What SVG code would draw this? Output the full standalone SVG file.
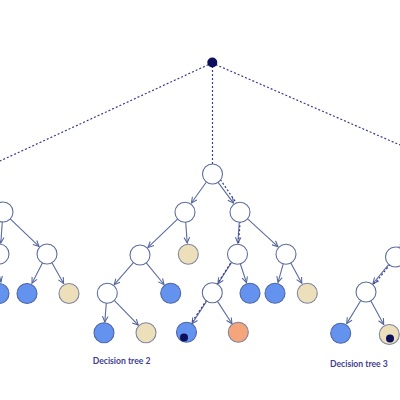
<svg xmlns="http://www.w3.org/2000/svg" width="400" height="400" viewBox="0 0 400 400">
<defs>
<marker id="ah" viewBox="0 0 8 8" refX="7" refY="4" markerWidth="7" markerHeight="7" markerUnits="userSpaceOnUse" orient="auto">
<path d="M0.5,0.8 L7,4 L0.5,7.2" fill="none" stroke="#53659a" stroke-width="1.2"/>
</marker>
<style>
.e{stroke:#5a6b9e;stroke-width:1.1;fill:none;marker-end:url(#ah)}
.d{stroke:#3a3d8c;stroke-width:1.2;fill:none;stroke-dasharray:2 2}
.w{fill:#ffffff;stroke:#5d6e9f;stroke-width:1.1}
.b{fill:#6393ee;stroke:#4e66a6;stroke-width:1.1}
.t{fill:#eedfbb;stroke:#7f869f;stroke-width:1.1}
.o{fill:#f5a57c;stroke:#7f7f9a;stroke-width:1.1}
.k{fill:#0c0f5e}
.lbl{font-family:Lato,"Liberation Sans",sans-serif;font-size:8.6px;font-weight:bold;fill:#3f4190}
</style>
</defs>
<rect width="400" height="400" fill="#ffffff"/>
<g id="connectors">
<!-- tree 1 -->
<line class="e" x1="2.3" y1="222" x2="0.8" y2="243"/>
<line class="e" x1="10.2" y1="218.9" x2="39" y2="246.4"/>
<line class="e" x1="42.4" y1="262.9" x2="32" y2="283.2"/>
<line class="e" x1="51.9" y1="262.7" x2="63.6" y2="283.4"/>
<line class="e" x1="-4" y1="262" x2="1" y2="282"/>
<!-- tree 2 -->
<line class="e" x1="206.2" y1="182.2" x2="191.4" y2="203"/>
<line class="e" x1="217.9" y1="182.1" x2="233.5" y2="203.1"/>
<line class="e" x1="177.8" y1="218.9" x2="148" y2="247.4"/>
<line class="e" x1="185.7" y1="222" x2="187.2" y2="243"/>
<line class="e" x1="239.3" y1="222" x2="237.8" y2="243"/>
<line class="e" x1="247.4" y1="218.7" x2="277.9" y2="246.6"/>
<line class="e" x1="133.4" y1="262.6" x2="114.2" y2="284.7"/>
<line class="e" x1="146.3" y1="262.8" x2="164" y2="284.5"/>
<line class="e" x1="231.6" y1="262.4" x2="217.9" y2="283.7"/>
<line class="e" x1="240.2" y1="263.5" x2="246.5" y2="282.6"/>
<line class="e" x1="283.3" y1="263.6" x2="278" y2="282.4"/>
<line class="e" x1="290.7" y1="262.8" x2="301.8" y2="283.3"/>
<line class="e" x1="106.3" y1="303" x2="104.8" y2="322"/>
<line class="e" x1="114" y1="300.2" x2="138.3" y2="325.1"/>
<line class="e" x1="206.5" y1="301.4" x2="192" y2="323.8"/>
<line class="e" x1="217.5" y1="301.4" x2="232" y2="323.8"/>
<!-- tree 3 -->
<line class="e" x1="388.6" y1="264.7" x2="373" y2="283.5"/>
<line class="e" x1="360.8" y1="300.5" x2="346.7" y2="323.6"/>
<line class="e" x1="370.8" y1="300.8" x2="383.7" y2="324.4"/>
<!-- dashed paths -->
<line class="d" x1="212" y1="63" x2="0" y2="161"/>
<line class="d" x1="212" y1="63" x2="400" y2="145"/>
<path class="d" d="M212.5,66 V168 L241,210 L238.5,244 L237,253 L214,289 L188,328 L184,336"/>
<path class="d" d="M401,243 L392,262 L376,282 L367,289 L370,302 M390,327 L390,331"/>
</g>
<g id="root-dot"><circle class="k" cx="212.3" cy="62.5" r="5"/></g>
<!-- tree 1 -->
<g id="t1-n0"><circle class="w" cx="3" cy="212" r="10"/></g>
<g id="t1-n1"><circle class="w" cx="-1" cy="254" r="10"/></g>
<g id="t1-n2"><circle class="w" cx="47" cy="254" r="10"/></g>
<g id="t1-l1"><circle class="b" cx="-1" cy="293.5" r="10"/></g>
<g id="t1-l2"><circle class="b" cx="27" cy="293.5" r="10"/></g>
<g id="t1-l3"><circle class="t" cx="69" cy="293.5" r="10"/></g>
<!-- tree 2 -->
<g id="t2-n0"><circle class="w" cx="212.5" cy="174" r="10"/></g>
<g id="t2-n1"><circle class="w" cx="185" cy="212.3" r="10"/></g>
<g id="t2-n2"><circle class="w" cx="240" cy="212.3" r="10"/></g>
<g id="t2-n3"><circle class="w" cx="140" cy="255" r="10"/></g>
<g id="t2-l1"><circle class="t" cx="188.3" cy="254.3" r="10"/></g>
<g id="t2-n4"><circle class="w" cx="237.5" cy="254.3" r="10"/></g>
<g id="t2-n5"><circle class="w" cx="286" cy="254.3" r="10"/></g>
<g id="t2-n6"><circle class="w" cx="107.3" cy="293.3" r="10"/></g>
<g id="t2-l2"><circle class="b" cx="170.7" cy="293.3" r="10"/></g>
<g id="t2-n7"><circle class="w" cx="212.3" cy="292.8" r="10"/></g>
<g id="t2-l3"><circle class="b" cx="250" cy="293.3" r="10"/></g>
<g id="t2-l4"><circle class="b" cx="275" cy="293.3" r="10"/></g>
<g id="t2-l5"><circle class="t" cx="307.3" cy="293.3" r="10"/></g>
<g id="t2-l6"><circle class="b" cx="104" cy="332.7" r="10"/></g>
<g id="t2-l7"><circle class="t" cx="146" cy="332.7" r="10"/></g>
<g id="t2-l8"><circle class="b" cx="186.5" cy="332.3" r="10"/><circle class="k" cx="184" cy="337.5" r="4"/></g>
<g id="t2-l9"><circle class="o" cx="238.3" cy="332.3" r="10"/></g>
<!-- tree 3 -->
<g id="t3-n0"><circle class="w" cx="395.5" cy="257" r="10"/></g>
<g id="t3-n1"><circle class="w" cx="366" cy="292" r="10"/></g>
<g id="t3-l1"><circle class="b" cx="340.7" cy="333.3" r="10"/></g>
<g id="t3-l2"><circle class="t" cx="389.3" cy="334.5" r="10"/><circle class="k" cx="390" cy="338.5" r="4"/></g>
<g id="labels">
<text class="lbl" x="92.7" y="363.8">Decision tree 2</text>
<text class="lbl" x="330" y="366.5">Decision tree 3</text>
</g>
</svg>
